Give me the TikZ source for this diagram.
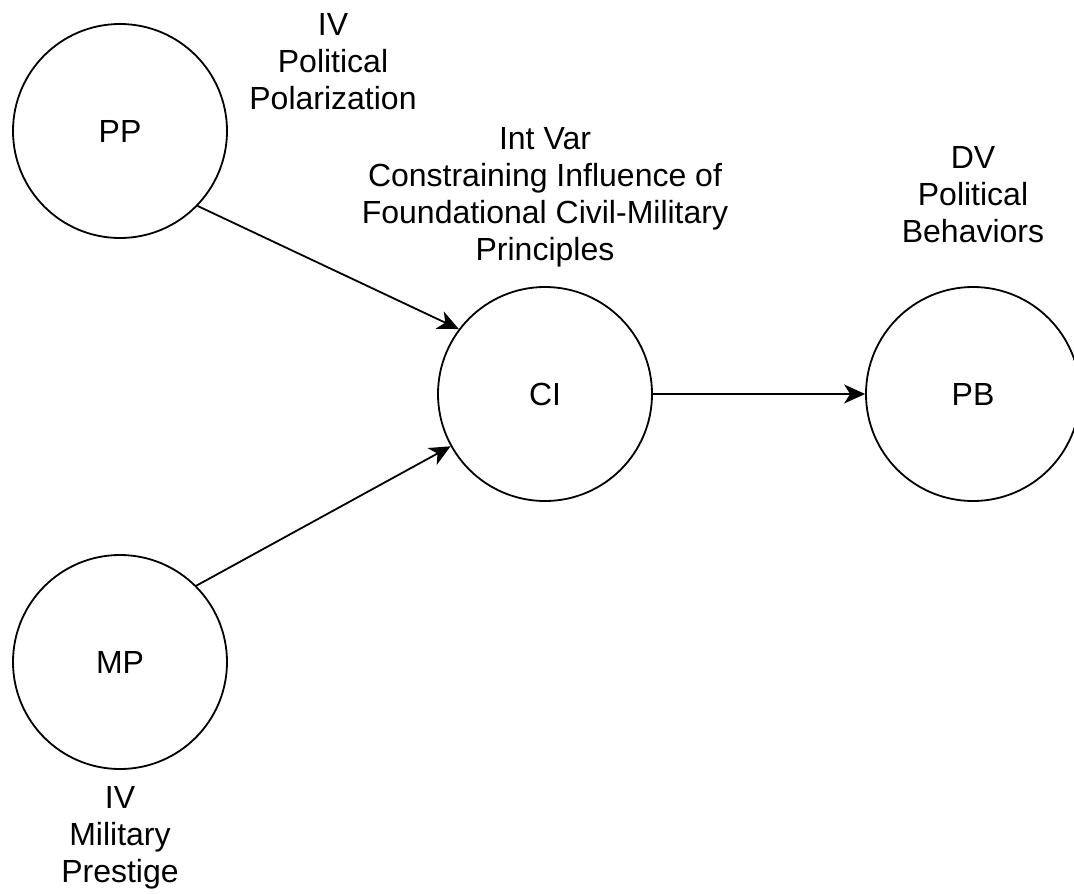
\documentclass[tikz,border=0pt]{standalone}
\usepackage{fontspec}
\setmainfont{Liberation Sans}
\usetikzlibrary{arrows.meta}
\begin{document}
\begin{tikzpicture}[x=1pt,y=-1pt,
  var/.style={circle, draw=black, line width=1.8pt, minimum size=214pt, inner sep=0pt,
    font=\fontsize{32}{37}\selectfont},
  lbl/.style={align=center, inner sep=0pt, anchor=base,
    font=\fontsize{32}{37}\selectfont},
  link/.style={line width=1.8pt, -{Stealth[length=21pt,width=19pt,inset=6pt]}}]
\useasboundingbox (0,0) rectangle (1074,894);
\node[var] (PP) at (120,131) {PP};
\node[var] (MP) at (120,662) {MP};
\node[var] (CI) at (545,394) {CI};
\node[var] (PB) at (973,394) {PB};
\node[lbl] (ppl) at (333,109) {IV\\Political\\Polarization};
\node[lbl] (cil) at (545,260) {Int Var\\Constraining Influence of\\Foundational Civil-Military\\Principles};
\node[lbl] (pbl) at (973,242) {DV\\Political\\Behaviors};
\node[lbl] (mpl) at (120,882) {IV\\Military\\Prestige};
\draw[link] (PP.-44) -- (CI.143);
\draw[link] (MP.45) -- (CI.209);
\draw[link] (CI.east) -- (PB.west);
\end{tikzpicture}
\end{document}
